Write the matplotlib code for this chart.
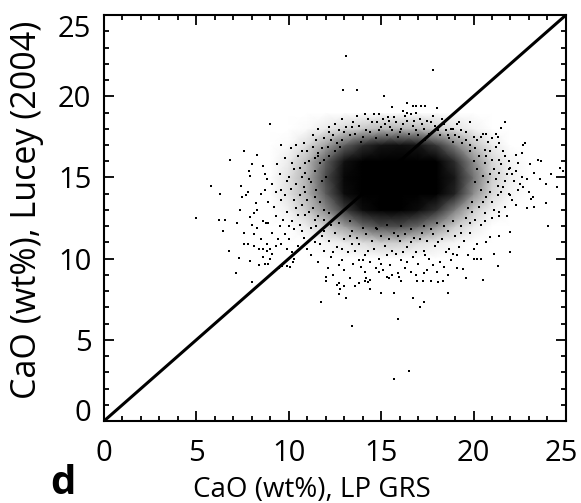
import numpy as np
import matplotlib.pyplot as plt
from matplotlib.colors import LinearSegmentedColormap
from matplotlib.ticker import MultipleLocator
from matplotlib.transforms import ScaledTranslation

plt.rcParams['font.family'] = ['Open Sans', 'DejaVu Sans']

# --- data ---------------------------------------------------------------------
# blackness of the dense cloud on a 1 wt% lattice (0 = white, 1 = solid black)
grid_x = [8, 9, 10, 11, 12, 13, 14, 15, 16, 17, 18, 19, 20, 21, 22, 23, 24]
grid_y = [7, 8, 9, 10, 11, 12, 13, 14, 15, 16, 17, 18, 19, 20]
core_density = [
    [0, 0, 0, 0, 0, 0, 0, 0, 0, 0, 0, 0, 0, 0, 0, 0, 0],
    [0, 0, 0, 0, 0, 0, 0, 0, 0, 0, 0, 0, 0, 0, 0, 0, 0],
    [0, 0, 0, 0, 0, 0, 0, 0, 0, 0, 0, 0, 0, 0, 0, 0, 0],
    [0, 0, 0, 0, 0, 0, 0, 0, 0, 0, 0, 0, 0, 0, 0, 0, 0],
    [0, 0, 0, 0, .04, .08, .14, .20, .20, .14, .08, .04, 0, 0, 0, 0, 0],
    [0, 0, 0, .08, .20, .38, .58, .70, .70, .60, .42, .20, .08, 0, 0, 0, 0],
    [0, 0, .06, .22, .45, .76, .95, 1, 1, .95, .82, .50, .20, .06, 0, 0, 0],
    [0, 0, .12, .30, .64, .95, 1, 1, 1, 1, 1, .86, .45, .15, .04, 0, 0],
    [0, 0, .12, .32, .70, .97, 1, 1, 1, 1, 1, .90, .55, .20, .06, 0, 0],
    [0, 0, .08, .27, .62, .93, 1, 1, 1, 1, 1, .82, .45, .16, .04, 0, 0],
    [0, 0, .02, .14, .36, .62, .82, .92, .94, .92, .78, .50, .24, .08, 0, 0, 0],
    [0, 0, 0, .02, .08, .16, .22, .28, .30, .28, .20, .12, .05, 0, 0, 0, 0],
    [0, 0, 0, 0, 0, 0, 0, 0, 0, 0, 0, 0, 0, 0, 0, 0, 0],
    [0, 0, 0, 0, 0, 0, 0, 0, 0, 0, 0, 0, 0, 0, 0, 0, 0],
]

# individual points outside the solid core: (LP GRS CaO, Lucey CaO)
scatter_points = [
    # upper side
    (13.1, 22.5), (17.8, 21.6), (12.95, 20.4), (13.7, 20.4), (15.15, 20.0), (9.0, 18.3),
    (16.4, 19.6), (16.7, 19.4), (16.9, 19.4), (17.15, 19.4), (17.4, 19.4), (18.05, 19.3),
    (15.6, 19.35), (14.1, 18.9), (14.9, 18.9), (15.35, 18.75), (16.2, 19.1), (16.4, 19.0),
    (16.9, 19.0), (19.2, 18.4), (11.6, 18.0), (12.2, 18.1), (12.2, 17.8), (10.8, 17.1),
    (13.1, 18.1), (13.4, 18.1), (13.6, 17.7), (14.2, 17.9), (14.5, 18.4), (14.8, 18.4),
    (15.1, 18.6), (15.4, 18.5), (15.8, 18.4), (16.2, 18.3), (16.8, 18.5), (17.1, 18.6),
    (17.5, 18.5), (18.8, 18.0), (19.1, 18.3), (19.6, 17.3), (19.8, 18.4), (21.7, 18.4),
    (21.5, 18.05), (20.5, 17.7), (20.7, 17.7), (21.2, 17.7), (21.35, 17.5), (22.8, 17.1),
    (22.7, 17.0), (21.4, 17.1), (20.2, 17.3), (20.4, 17.5), (18.9, 18.0), (19.3, 17.9),
    (11.9, 17.4), (12.4, 17.6), (12.7, 17.9), (12.9, 17.3), (13.3, 17.6), (13.8, 18.2),
    (14.0, 17.5), (14.4, 17.8), (14.7, 17.4), (15.0, 18.1), (15.3, 17.6), (15.6, 17.9),
    (15.9, 17.5), (16.1, 18.0), (16.5, 17.7), (16.7, 18.2), (17.0, 17.6), (17.3, 18.0),
    (17.6, 17.7), (17.9, 18.2), (18.2, 17.6), (18.5, 17.9), (18.7, 17.4), (19.0, 17.6),
    (19.4, 17.1), (19.8, 17.0), (20.1, 16.8), (11.3, 16.9), (11.0, 16.6), (11.6, 16.5),
    (12.1, 16.9), (10.5, 16.3), (10.2, 15.9), (9.8, 16.2),
    (12.5, 18.3), (13.0, 17.8), (13.5, 18.4), (14.3, 18.6), (14.9, 17.9), (15.2, 18.3),
    (15.7, 18.7), (16.0, 17.8), (16.4, 18.5), (16.9, 17.9), (17.2, 18.3), (17.7, 18.4),
    (18.1, 17.9), (18.4, 18.3), (18.6, 17.6), (19.2, 17.5), (19.6, 17.8), (20.0, 17.5),
    (11.5, 17.3), (12.6, 17.1),
    (12.3, 17.3), (12.8, 16.9), (11.8, 16.8), (12.5, 16.6), (11.4, 16.2), (12.2, 16.3),
    (10.9, 15.9), (11.3, 17.6), (12.9, 18.6), (10.4, 17.0),
    (13.7, 18.8), (14.6, 18.9), (15.5, 18.1), (16.3, 18.8), (17.8, 18.8), (18.3, 18.6),
    (13.9, 17.2), (17.4, 17.3), (18.9, 17.2), (16.6, 18.9),
    # left side
    (9.35, 15.8), (8.6, 15.7), (8.7, 15.2), (8.8, 14.9), (8.7, 14.2), (8.5, 14.0),
    (9.1, 14.6), (9.5, 15.2), (9.9, 14.8), (10.3, 15.5), (10.7, 15.0), (10.1, 14.3),
    (10.6, 13.9), (9.6, 13.6), (9.2, 13.2), (9.9, 12.9), (10.4, 13.1), (10.9, 12.7),
    (10.2, 12.3), (9.5, 12.0), (8.9, 12.2), (8.75, 12.2), (8.6, 12.3), (9.1, 11.6),
    (9.4, 11.2), (9.8, 11.5), (10.3, 11.8), (10.8, 11.3), (10.5, 10.8), (9.9, 10.6),
    (4.96, 12.5), (5.77, 14.5), (6.28, 13.96), (6.8, 16.1), (6.2, 12.4), (6.55, 12.4),
    (6.46, 11.7), (6.78, 10.47), (7.3, 10.06), (7.14, 9.1), (8.0, 8.58), (7.36, 13.0),
    (7.9, 12.58), (8.1, 12.8), (7.45, 13.8), (7.8, 14.1), (7.7, 13.9), (7.86, 15.4),
    (7.9, 15.1), (8.0, 15.8), (7.4, 14.5), (7.6, 11.6), (8.1, 11.5), (7.8, 10.9),
    (7.6, 10.9), (8.1, 10.8), (8.4, 10.6), (8.6, 10.6), (8.8, 10.5), (9.0, 10.6),
    (9.1, 10.3), (7.9, 9.85), (8.4, 9.6), (8.7, 9.66), (8.9, 9.7), (9.0, 9.96),
    (9.47, 9.4), (9.65, 9.55), (9.9, 9.55), (10.06, 9.5), (10.25, 9.8), (10.3, 10.0),
    (8.5, 11.2), (8.3, 11.9), (8.0, 12.1), (8.6, 10.1), (8.8, 10.9), (9.3, 10.8),
    (11.1, 16.0), (11.4, 15.4), (11.7, 15.9), (11.2, 14.7), (11.5, 14.2), (11.8, 14.8),
    (11.0, 13.6), (11.3, 13.1), (11.7, 13.5), (10.9, 14.1), (11.9, 12.4), (11.5, 12.0),
    (12.2, 12.8), (10.7, 16.6), (10.4, 14.6),
    (10.1, 16.8), (10.6, 15.6), (10.9, 15.3), (11.1, 14.9), (10.8, 14.4), (11.4, 13.8),
    (11.6, 16.3), (10.3, 13.6), (10.7, 13.3), (11.1, 12.9), (11.6, 12.6), (10.6, 12.1),
    (11.2, 11.9), (11.9, 11.7), (12.3, 12.1), (9.6, 14.2), (9.8, 13.9), (10.0, 15.0),
    (9.3, 14.1), (9.7, 12.4), (11.9, 16.1), (12.0, 15.0),
    (10.0, 11.2), (10.7, 11.7), (11.4, 12.4), (10.2, 10.4), (11.0, 10.6), (11.7, 10.9),
    (12.0, 12.0), (9.6, 10.9), (10.5, 12.7), (11.9, 13.0), (9.3, 12.6), (10.0, 12.0),
    (9.6, 17.0), (8.3, 16.4), (7.6, 16.6), (8.2, 13.4), (8.9, 13.5), (8.3, 13.0),
    (7.2, 12.2),
    # lower side
    (11.75, 7.3), (13.45, 5.85), (15.9, 6.3), (16.5, 3.1), (15.7, 2.6), (12.7, 7.8),
    (13.1, 7.6), (16.7, 7.6), (17.1, 7.05), (17.3, 7.3), (15.0, 7.9), (15.7, 7.9),
    (14.4, 8.1), (20.5, 8.7), (18.35, 8.6), (18.1, 8.55), (17.7, 8.6), (17.25, 8.65),
    (16.95, 8.6), (16.07, 8.65), (15.96, 8.9), (15.4, 8.8), (15.3, 8.9), (15.6, 9.0),
    (14.4, 8.68), (14.3, 8.54), (14.1, 8.62), (14.2, 8.79), (13.8, 8.48), (13.6, 8.33),
    (13.3, 8.82), (12.6, 8.4), (12.8, 8.1), (12.0, 8.6), (12.0, 8.9), (12.4, 9.0),
    (13.0, 8.3), (12.7, 8.5), (14.1, 9.15), (14.9, 9.2), (15.9, 9.1), (16.6, 9.2),
    (17.3, 9.1), (17.5, 9.3), (19.1, 9.4), (18.9, 10.3), (20.4, 10.0), (20.0, 9.95),
    (20.2, 9.95), (20.0, 10.6), (19.45, 9.35), (21.3, 9.55), (20.7, 11.0), (20.2, 10.9),
    (20.9, 11.35), (21.4, 11.4), (21.97, 11.66), (21.4, 12.6),
    (11.2, 10.2), (11.6, 9.8), (11.9, 10.5), (12.3, 10.1), (12.6, 10.7), (12.9, 9.9),
    (13.2, 10.4), (13.5, 9.7), (13.8, 10.9), (14.1, 10.2), (14.4, 9.8), (14.6, 10.6),
    (14.9, 10.0), (15.2, 10.8), (15.5, 9.6), (15.8, 10.3), (16.1, 9.9), (16.4, 10.7),
    (16.7, 10.1), (17.0, 9.7), (17.3, 10.5), (17.6, 10.0), (17.9, 10.8), (18.2, 9.8),
    (18.5, 10.4), (18.8, 9.9), (19.2, 10.7), (19.5, 11.1), (19.8, 11.6), (11.4, 11.0),
    (11.8, 11.4), (12.2, 11.1), (12.5, 11.6), (13.0, 11.2), (13.4, 11.7), (13.7, 11.3),
    (14.2, 11.5), (14.5, 11.1), (15.0, 11.4), (15.4, 11.2), (15.7, 11.6), (16.0, 11.1),
    (16.3, 11.5), (16.8, 11.3), (17.2, 11.6), (17.5, 11.1), (17.8, 11.5), (18.3, 11.2),
    (18.6, 11.7), (19.0, 11.4), (12.1, 9.4), (13.0, 9.3), (13.9, 9.5), (14.7, 9.4),
    (16.3, 9.4), (18.0, 9.2), (18.6, 9.0), (19.7, 10.2),
    (12.7, 12.2), (13.3, 12.3), (13.6, 10.5), (14.0, 11.9), (14.8, 11.8), (15.3, 12.1),
    (15.6, 10.5), (16.1, 12.0), (16.6, 11.8), (16.9, 10.4), (17.3, 12.0), (17.7, 11.8),
    (18.0, 12.2), (18.4, 12.0), (18.9, 12.3), (19.3, 12.0), (19.6, 12.5), (14.0, 9.9),
    (15.1, 9.3), (16.9, 9.0), (18.4, 9.5), (13.4, 10.9), (12.4, 10.4), (19.1, 10.2),
    (12.9, 10.6), (13.3, 11.4), (14.3, 10.5), (14.7, 11.9), (15.3, 10.2), (15.9, 11.4),
    (16.2, 10.4), (16.6, 11.0), (17.1, 11.2), (17.4, 10.2), (18.1, 11.0), (18.7, 10.6),
    (19.3, 11.6), (15.0, 9.7), (16.4, 9.8), (17.8, 9.6), (13.8, 9.9), (12.7, 9.6),
    (22.0, 10.4), (21.1, 10.3), (19.6, 8.8), (18.6, 7.9),
    # right side
    (22.3, 16.4), (21.7, 16.3), (21.4, 16.1), (23.5, 16.1), (23.65, 16.0), (23.05, 15.8),
    (24.7, 15.6), (24.85, 15.4), (24.2, 15.2), (23.95, 14.6), (23.1, 13.7), (23.2, 13.8),
    (22.9, 13.1), (23.3, 13.15), (23.9, 13.4), (24.05, 12.0), (22.7, 14.4), (23.0, 14.1),
    (22.1, 13.6), (22.5, 14.6), (22.9, 14.9),
    (20.3, 16.3), (20.6, 15.9), (20.9, 16.6), (21.1, 15.5), (21.5, 15.8), (21.8, 15.2),
    (22.0, 15.6), (20.5, 15.1), (20.8, 14.7), (21.2, 14.9), (21.6, 14.4), (21.9, 14.0),
    (22.2, 14.8), (20.4, 14.2), (20.7, 13.8), (21.0, 13.5), (21.3, 13.9), (21.7, 13.2),
    (20.3, 13.2), (20.6, 12.8), (21.0, 12.5), (20.1, 12.4), (19.9, 12.9), (20.0, 16.0),
    (19.8, 16.6), (20.2, 15.5), (22.4, 15.9), (22.6, 16.5), (21.2, 16.9), (20.8, 17.2),
    (20.9, 14.1), (21.3, 14.5), (20.5, 13.5), (21.1, 13.0), (20.7, 16.3), (21.0, 16.1),
    (21.4, 15.3), (20.9, 15.2), (19.9, 13.5), (20.1, 14.7), (21.7, 14.8), (22.1, 15.2),
    (21.9, 16.0), (20.4, 12.1), (19.8, 12.2),
    (21.6, 16.6), (21.9, 15.5), (22.3, 15.4), (21.5, 14.1), (22.0, 13.9), (21.4, 12.9),
    (21.8, 12.6), (22.3, 13.3), (20.6, 12.3), (19.7, 13.1), (22.6, 15.0), (22.4, 14.2),
    (21.0, 17.4), (20.6, 16.7), (23.6, 14.9), (23.3, 15.3), (24.5, 14.4),
]

axis_ticks = [0, 5, 10, 15, 20, 25]
one_to_one = [0, 25]

# --- plot ---------------------------------------------------------------------
fig = plt.figure(figsize=(5.81, 5.03), dpi=100)
ax = fig.add_axes([0.179, 0.163, 0.795, 0.807])

fog = LinearSegmentedColormap.from_list('fog', ['white', 'black'])
ax.pcolormesh(grid_x, grid_y, np.array(core_density), shading='gouraud',
              cmap=fog, vmin=0, vmax=1, zorder=1)

px = [p[0] for p in scatter_points]
py = [p[1] for p in scatter_points]
ax.plot(px, py, 's', color='black', markersize=1.6, markeredgewidth=0, zorder=2)

ax.plot(one_to_one, one_to_one, color='black', linewidth=2.2, zorder=3)

ax.set_xlim(0, 25)
ax.set_ylim(0, 25)
ax.set_xticks(axis_ticks)
ax.set_yticks(axis_ticks)
ax.xaxis.set_minor_locator(MultipleLocator(1))
ax.yaxis.set_minor_locator(MultipleLocator(1))
ax.tick_params(which='both', direction='in', top=True, right=True, width=1.3,
               labelsize=21)
ax.tick_params(which='major', length=7)
ax.tick_params(which='minor', length=3.5)
ax.tick_params(axis='x', pad=13)
ax.tick_params(axis='y', pad=9)
for sp in ax.spines.values():
    sp.set_linewidth(1.5)

# end labels sit inside the axis range, like the original
ylabels = ax.get_yticklabels()
ylabels[0].set_verticalalignment('baseline')
ylabels[-1].set_verticalalignment('top')
xlast = ax.get_xticklabels()[-1]
xlast.set_transform(xlast.get_transform()
                    + ScaledTranslation(-3 / 72, 0, fig.dpi_scale_trans))

ax.set_xlabel('CaO (wt%), LP GRS', fontsize=20)
ax.xaxis.set_label_coords(0.45, -0.135)
ax.set_ylabel('CaO (wt%), Lucey (2004)', fontsize=24.5)
ax.yaxis.set_label_coords(-0.13, 0.52)

fig.text(0.087, 0.0, 'd', fontsize=29, fontweight='bold', va='bottom')

fig.savefig('out.png', dpi=100)
